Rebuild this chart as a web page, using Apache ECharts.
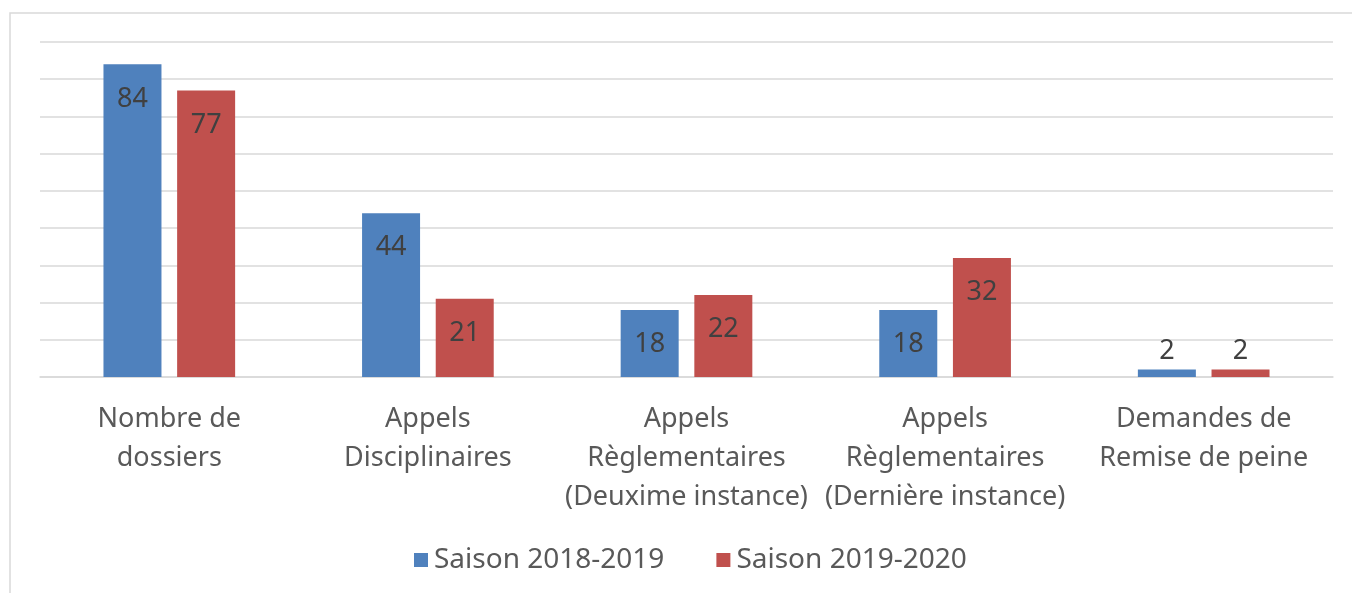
<!DOCTYPE html>
<html>
<head>
<meta charset="utf-8">
<script src="https://cdn.jsdelivr.net/npm/echarts@6/dist/echarts.min.js"></script>
<style>
  html, body { margin: 0; padding: 0; background: #fff; }
  #chart { width: 1352px; height: 593px; }
</style>
</head>
<body>
<div id="chart"></div>
<script>
// categories and values
var categories = [
  "Nombre de\ndossiers",
  "Appels\nDisciplinaires",
  "Appels\nRèglementaires\n(Deuxime instance)",
  "Appels\nRèglementaires\n(Dernière instance)",
  "Demandes de\nRemise de peine"
];
var saison1819 = [84, 44, 18, 18, 2];
var saison1920 = [77, 21, 22, 32, 2];
var seriesNames = ["Saison 2018-2019", "Saison 2019-2020"];
var colorList = ["#4f81bd", "#c0504d"];

var fontFam = "'Noto Sans', sans-serif";

// small bars get their label above, others inside at the top
function toData(arr) {
  var out = [];
  for (var i = 0; i < arr.length; i++) {
    if (arr[i] < 5) {
      out.push({ value: arr[i], label: { position: "top", distance: 5 } });
    } else {
      out.push(arr[i]);
    }
  }
  return out;
}

var seriesData = [];
var vals = [saison1819, saison1920];
for (var i = 0; i < vals.length; i++) {
  seriesData.push({
    name: seriesNames[i],
    type: "bar",
    barWidth: 58,
    barGap: "27%",
    itemStyle: { color: colorList[i] },
    label: {
      show: true,
      position: "insideTop",
      distance: 21,
      color: "#404040",
      fontSize: 27,
      fontFamily: fontFam
    },
    data: toData(vals[i])
  });
}

var myChart = echarts.init(document.getElementById("chart"));
myChart.setOption({
  animation: false,
  graphic: [
    {
      type: "rect",
      silent: true,
      shape: { x: 10, y: 13, width: 1400, height: 700 },
      style: { fill: "none", stroke: "#d9d9d9", lineWidth: 1.5 }
    }
  ],
  legend: {
    data: seriesNames,
    bottom: 14,
    left: 409,
    itemWidth: 14,
    itemHeight: 14,
    itemGap: 52,
    icon: "rect",
    textStyle: { color: "#595959", fontSize: 28, fontFamily: fontFam, padding: [0, 0, 0, 1] }
  },
  grid: {
    left: 40,
    right: 19,
    top: 42,
    bottom: 216
  },
  xAxis: {
    type: "category",
    data: categories,
    axisLine: { lineStyle: { color: "#d9d9d9", width: 1.5 } },
    axisTick: { show: false },
    axisLabel: {
      interval: 0,
      color: "#595959",
      fontSize: 27,
      lineHeight: 39,
      margin: 23,
      fontFamily: fontFam
    }
  },
  yAxis: {
    type: "value",
    min: 0,
    max: 90,
    interval: 10,
    axisLabel: { show: false },
    axisLine: { show: false },
    axisTick: { show: false },
    splitLine: { lineStyle: { color: "#d9d9d9", width: 1.5 } }
  },
  series: seriesData
});
</script>
</body>
</html>
